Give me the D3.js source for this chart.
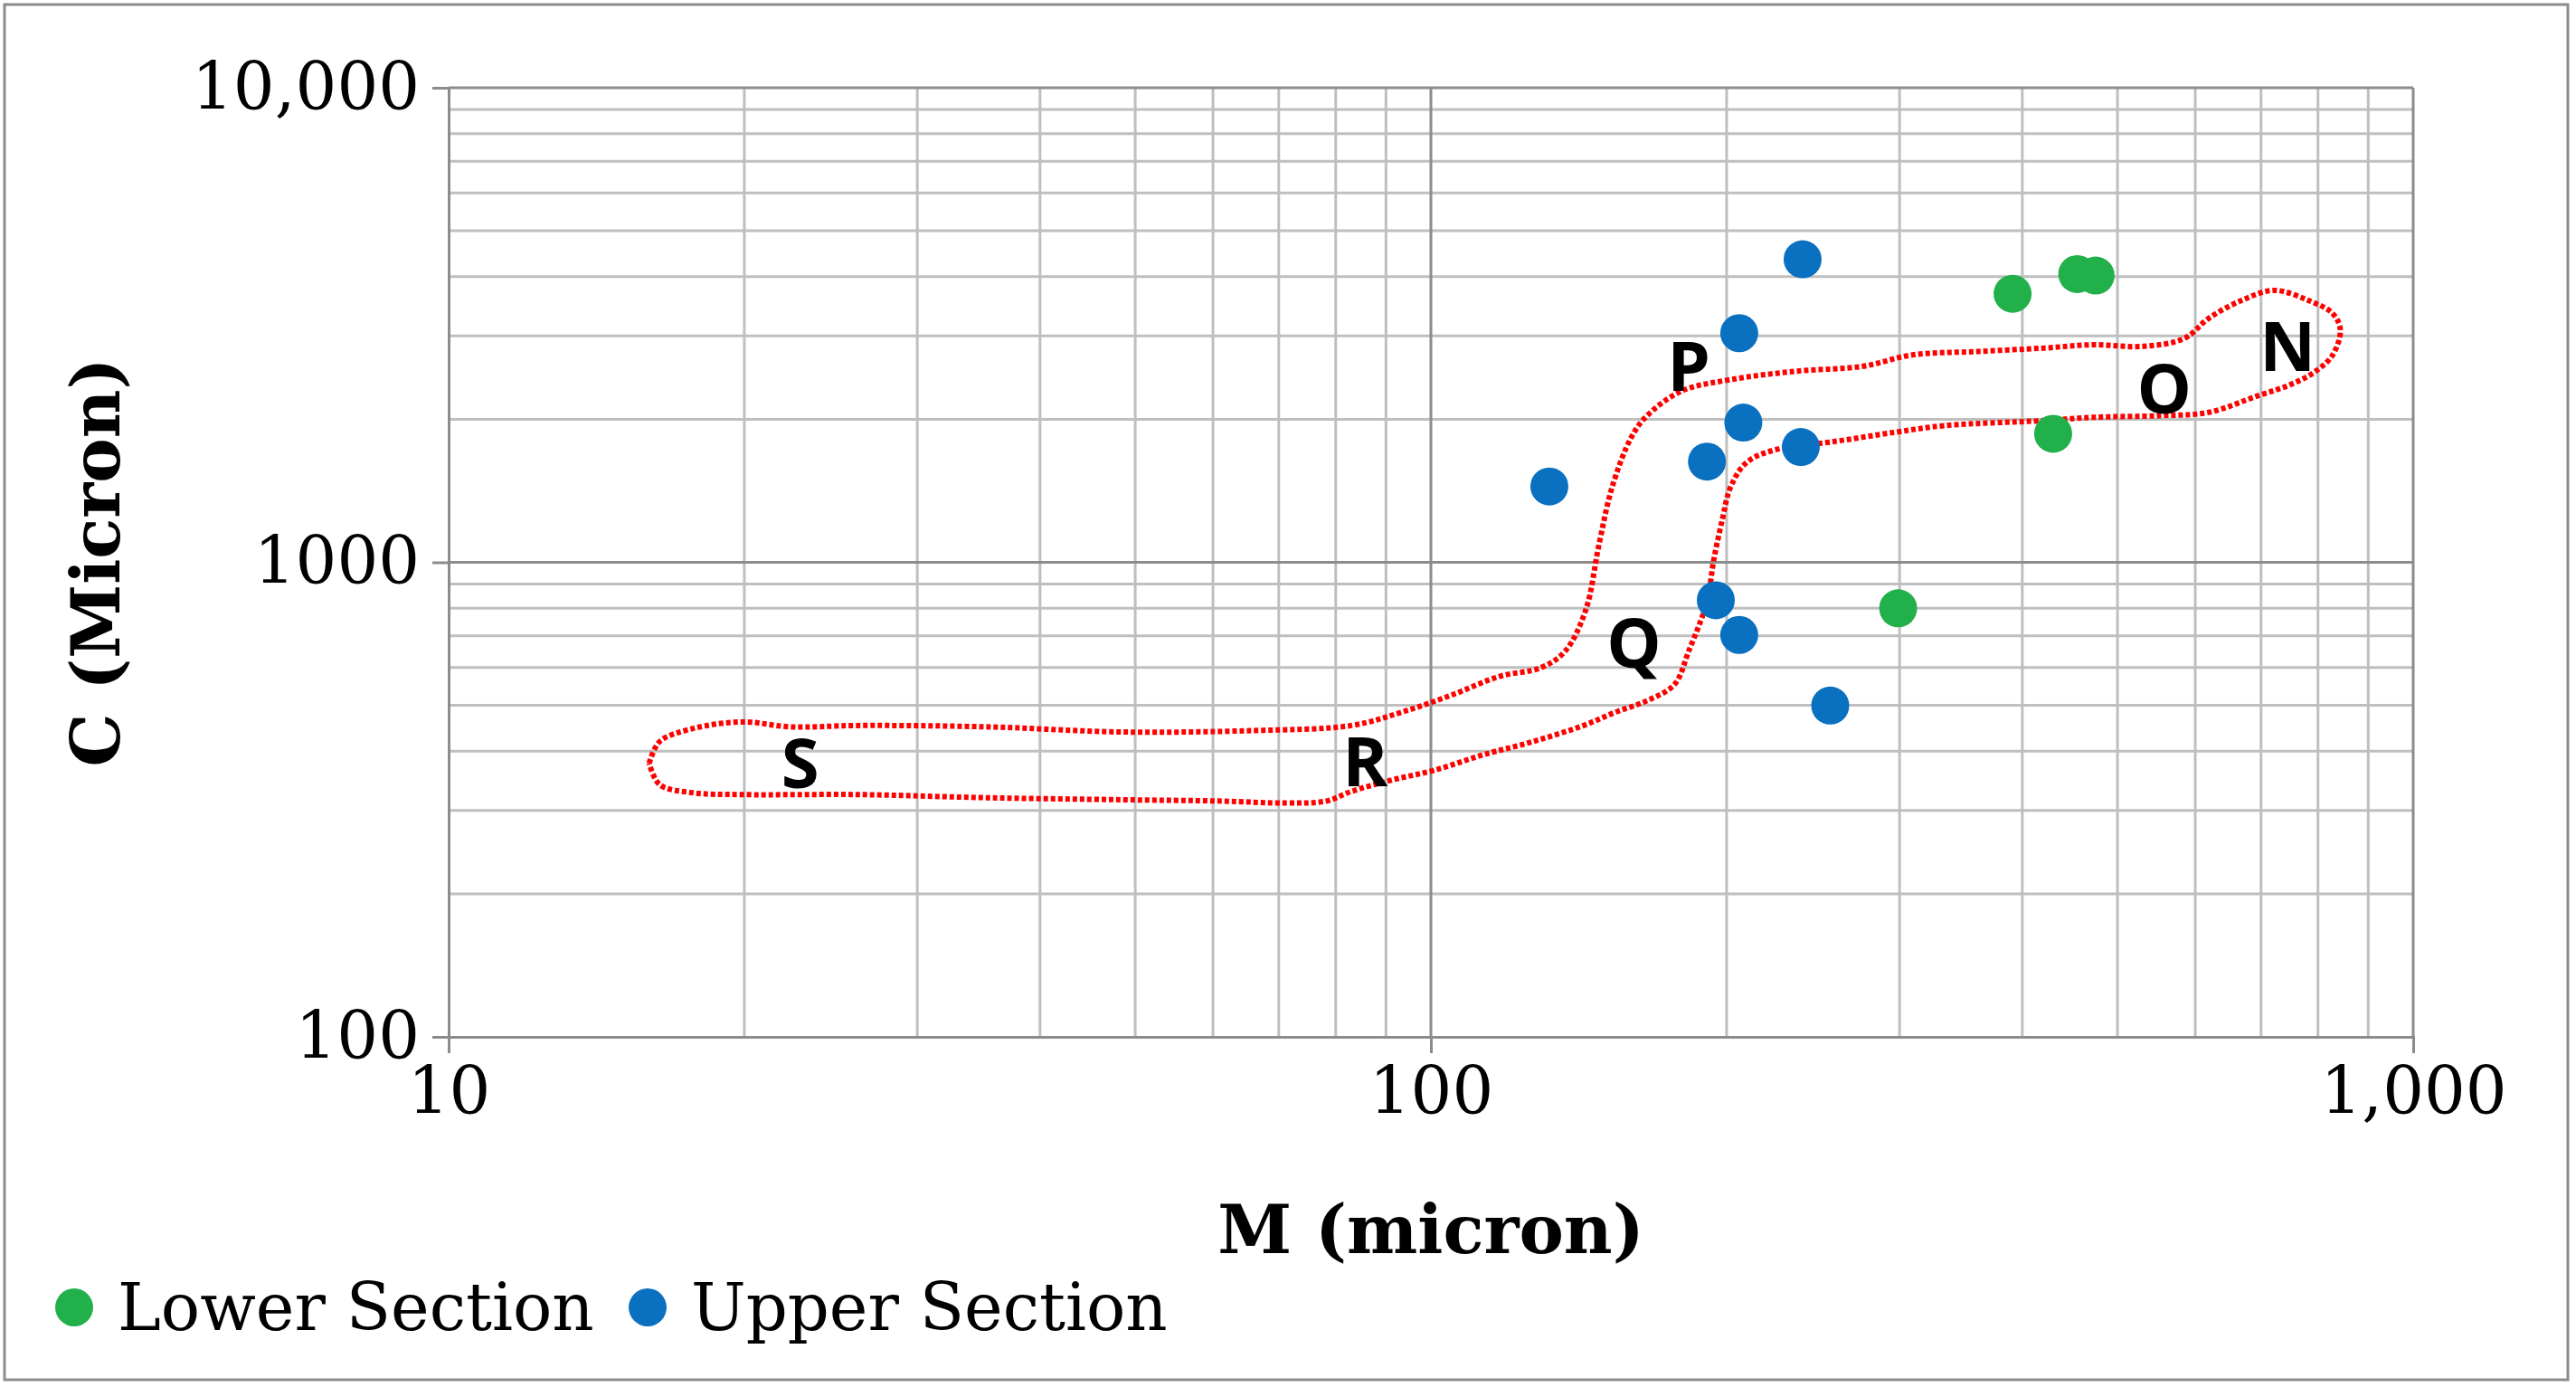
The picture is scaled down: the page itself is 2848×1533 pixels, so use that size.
<!DOCTYPE html>
<html>
<head>
<meta charset="utf-8">
<script src="https://cdn.jsdelivr.net/npm/d3@7"></script>
<style>
  body { margin: 0; background: #fff; }
</style>
</head>
<body>
<svg id="chart" width="2848" height="1533"></svg>
<script>
// values
const lowerSection = [[391, 3680], [455, 4050], [475, 4020], [430, 1866], [299, 800]];
const upperSection = [[239, 4350], [206, 3040], [208, 1970], [238, 1750], [191, 1630],
  [132, 1445], [195, 832], [206, 703], [255, 499]];
const envelope = [[16.0,377],[16.4,419],[17.7,446],[19.9,461],[22.3,450],[26.1,453],[35.5,450],
  [48.4,439],[65.9,442],[83.0,453],[93.3,483],[104.7,524],[117.5,575],[129.5,600],[137,650],
  [143.8,795],[148.3,1091],[153,1445],[160,1836],[166,2037],[180,2296],[202,2427],[236,2529],
  [275,2588],[309,2735],[361,2782],[421,2828],[472,2874],[531,2851],[585,2965],[619,3266],
  [669,3565],[722,3741],[782,3565],[828,3345],[843,3090],[828,2735],[796,2529],[751,2371],
  [695,2244],[619,2070],[552,2037],[472,2021],[421,1989],[334,1942],[297,1880],[255,1792],
  [227,1738],[210,1629],[202,1445],[198,1231],[194,1008],[191,826],[183,650],[177,553],
  [166,511],[154,483],[143,453],[127,419],[113,393],[101,365],[91.4,348],[83.0,329],[78.3,314],
  [71.1,311],[61.0,314],[48.4,316],[35.5,319],[26.1,324],[19.9,324],[17.7,327],[16.4,340],[16.0,377]];
const zoneLabels = [["S", 22.8, 377], ["R", 85.7, 381], ["Q", 161, 676], ["P", 183, 2588],
  ["O", 558, 2317], ["N", 745, 2851]];
const xTickLabels = ["10", "100", "1,000"];
const yTickLabels = ["100", "1000", "10,000"];

const svg = d3.select("#chart");
const pLeft = 496, pRight = 2668, pTop = 97, pBottom = 1146;
const x = d3.scaleLog().domain([10, 1000]).range([pLeft, pRight]);
const y = d3.scaleLog().domain([100, 10000]).range([pBottom, pTop]);
const serif = "'DejaVu Serif', serif";

svg.append("rect").attr("x", 5).attr("y", 5).attr("width", 2834).attr("height", 1520)
  .attr("fill", "none").attr("stroke", "#8c8c8c").attr("stroke-width", 3);

// grid
const minorX = x.ticks().filter(v => ![10, 100, 1000].includes(v));
const minorY = y.ticks().filter(v => ![100, 1000, 10000].includes(v));
const grid = svg.append("g");
grid.selectAll(".gx").data(minorX).join("line")
  .attr("x1", d => x(d)).attr("x2", d => x(d)).attr("y1", pTop).attr("y2", pBottom)
  .attr("stroke", "#bfbfbf").attr("stroke-width", 3);
grid.selectAll(".gy").data(minorY).join("line")
  .attr("y1", d => y(d)).attr("y2", d => y(d)).attr("x1", pLeft).attr("x2", pRight)
  .attr("stroke", "#bfbfbf").attr("stroke-width", 3);
grid.selectAll(".Mx").data([100, 1000]).join("line")
  .attr("x1", d => x(d)).attr("x2", d => x(d)).attr("y1", pTop).attr("y2", pBottom)
  .attr("stroke", "#8c8c8c").attr("stroke-width", 3);
grid.selectAll(".My").data([1000, 10000]).join("line")
  .attr("y1", d => y(d)).attr("y2", d => y(d)).attr("x1", pLeft).attr("x2", pRight)
  .attr("stroke", "#8c8c8c").attr("stroke-width", 3);

// axes
const xAxis = d3.axisBottom(x).tickValues([10, 100, 1000]).tickSize(18)
  .tickFormat((d, i) => xTickLabels[i]).tickPadding(16);
const yAxis = d3.axisLeft(y).tickValues([100, 1000, 10000]).tickSize(18)
  .tickFormat((d, i) => yTickLabels[i]).tickPadding(14);
const gx = svg.append("g").attr("transform", `translate(0,${pBottom})`).call(xAxis);
const gy = svg.append("g").attr("transform", `translate(${pLeft},0)`).call(yAxis);
[gx, gy].forEach(g => {
  g.select(".domain").attr("stroke", "#8c8c8c").attr("stroke-width", 3);
  g.selectAll(".tick line").attr("stroke", "#8c8c8c").attr("stroke-width", 3);
  g.selectAll("text").attr("font-family", serif).attr("font-size", 72).attr("fill", "#000");
});

// envelope
svg.append("path").datum(envelope)
  .attr("d", d3.line().x(d => x(d[0])).y(d => y(d[1])).curve(d3.curveCatmullRom))
  .attr("fill", "none").attr("stroke", "#ff0000").attr("stroke-width", 6)
  .attr("stroke-dasharray", "5 3");

svg.append("g").selectAll("text").data(zoneLabels).join("text")
  .attr("x", d => x(d[1])).attr("y", d => y(d[2])).attr("dy", "0.36em")
  .attr("text-anchor", "middle").attr("font-family", "'Open Sans', sans-serif")
  .attr("font-weight", "bold").attr("font-size", 76).text(d => d[0]);

// points
const lowerColor = "#22b04b", upperColor = "#0a70c0";
svg.append("g").selectAll("circle").data(upperSection).join("circle")
  .attr("cx", d => x(d[0])).attr("cy", d => y(d[1])).attr("r", 21).attr("fill", upperColor);
svg.append("g").selectAll("circle").data(lowerSection).join("circle")
  .attr("cx", d => x(d[0])).attr("cy", d => y(d[1])).attr("r", 21).attr("fill", lowerColor);

// titles
svg.append("text").attr("x", x(100)).attr("y", 1385).attr("text-anchor", "middle")
  .attr("font-family", serif).attr("font-weight", "bold").attr("font-size", 74).text("M (micron)");
svg.append("text").attr("transform", `translate(132,${y(1000)}) rotate(-90)`)
  .attr("text-anchor", "middle").attr("font-family", serif).attr("font-weight", "bold")
  .attr("font-size", 74).text("C (Micron)");

// legend
const legend = [["Lower Section", lowerColor, 82], ["Upper Section", upperColor, 716]];
const lg = svg.append("g").selectAll("g").data(legend).join("g");
lg.append("circle").attr("cx", d => d[2]).attr("cy", 1445).attr("r", 21).attr("fill", d => d[1]);
lg.append("text").attr("x", d => d[2] + 48).attr("y", 1445).attr("dy", "0.35em")
  .attr("font-family", serif).attr("font-size", 72).text(d => d[0]);
</script>
</body>
</html>
